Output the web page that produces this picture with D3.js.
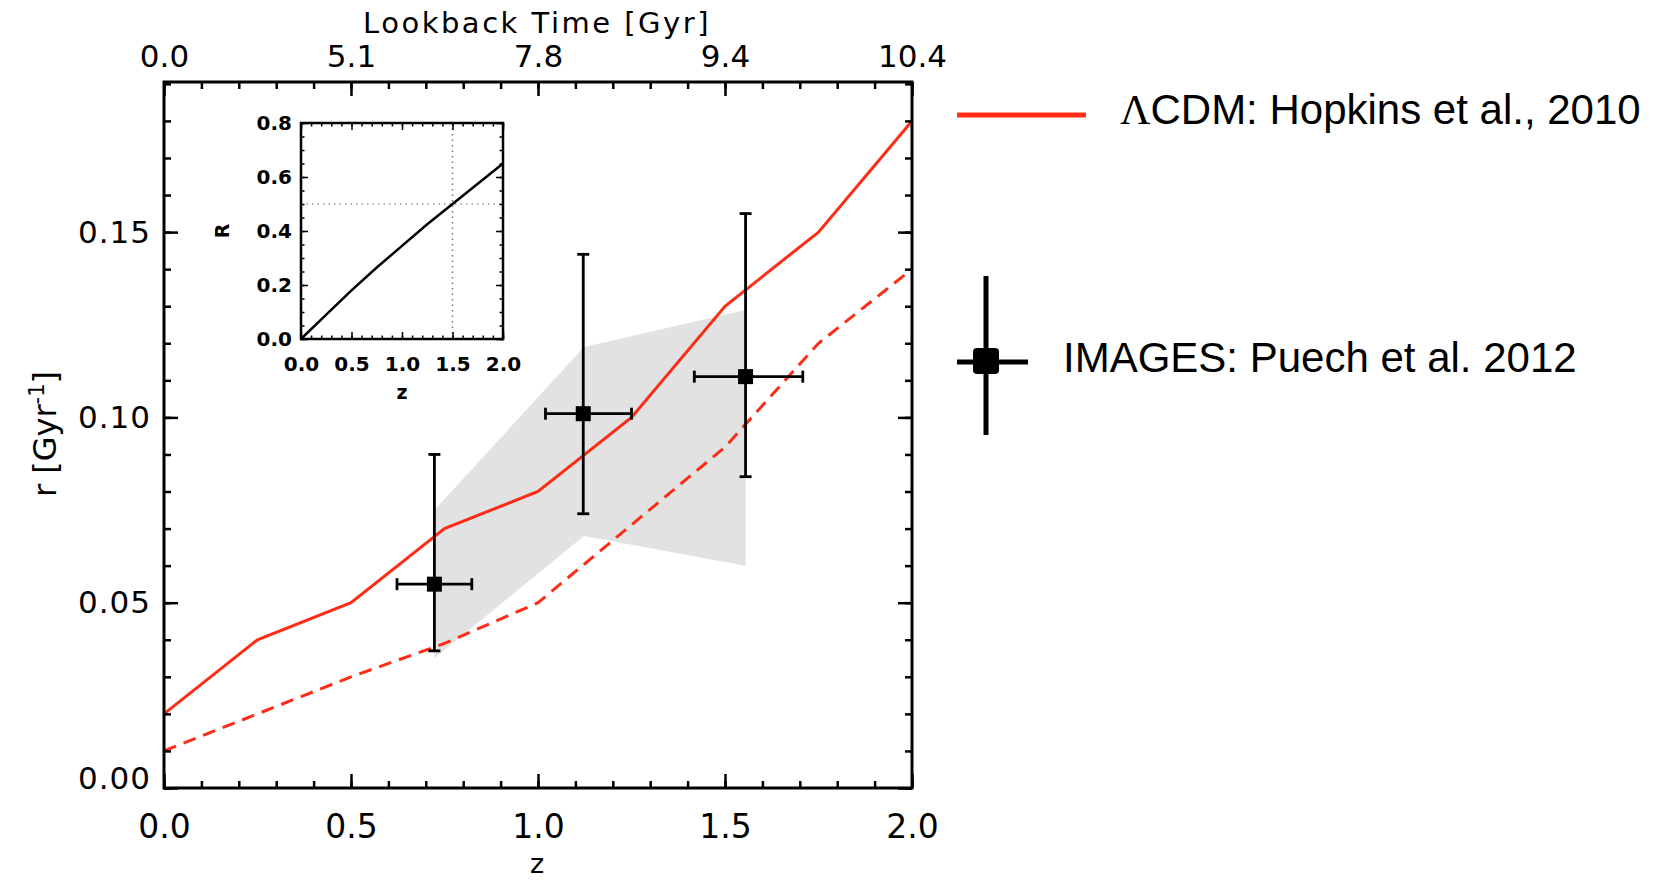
<!DOCTYPE html>
<html>
<head>
<meta charset="utf-8">
<script src="https://cdn.jsdelivr.net/npm/d3@7"></script>
<style>
  body { margin: 0; background: #fff; }
  text { font-family: "DejaVu Sans", sans-serif; fill: #000; }
</style>
</head>
<body>
<svg id="chart"></svg>
<script>
// model curves (Hopkins et al. 2010)
const modelZ = [0, 0.25, 0.5, 0.75, 1.0, 1.25, 1.5, 1.75, 2.0];
const hopkinsRate = [0.020, 0.040, 0.050, 0.070, 0.080, 0.100, 0.130, 0.150, 0.180];
const hopkinsLower = [0.010, 0.020, 0.030, 0.039, 0.050, 0.071, 0.092, 0.120, 0.140];

// IMAGES points (Puech et al. 2012)
const imagesZ = [0.723, 1.121, 1.555];
const imagesRate = [0.055, 0.101, 0.111];
const imagesZLow = [0.623, 1.020, 1.418];
const imagesZHigh = [0.823, 1.250, 1.708];
const imagesRateLow = [0.037, 0.074, 0.084];
const imagesRateHigh = [0.090, 0.144, 0.155];

// grey band
const bandZ = [0.723, 1.123, 1.555];
const bandUpper = [0.075, 0.119, 0.129];
const bandLower = [0.035, 0.068, 0.060];

// inset R(z)
const insetZ = [0, 0.25, 0.5, 0.75, 1.0, 1.25, 1.5, 1.75, 2.0];
const insetR = [0, 0.09, 0.18, 0.265, 0.345, 0.425, 0.50, 0.575, 0.65];

// ticks
const zTicks = [0, 0.5, 1.0, 1.5, 2.0];
const lookbackLabels = ["0.0", "5.1", "7.8", "9.4", "10.4"];
const rateTicks = [0, 0.05, 0.10, 0.15];
const insetRTicks = [0, 0.2, 0.4, 0.6, 0.8];

const width = 1662, height = 880;
const red = "#fe2c16";

const svg = d3.select("#chart")
    .attr("width", width)
    .attr("height", height)
    .style("display", "block");

svg.append("rect").attr("width", width).attr("height", height).attr("fill", "#fff");

// main scales
const x = d3.scaleLinear().domain([0, 2]).range([164, 912]);
const y = d3.scaleLinear().domain([0, 0.1905]).range([788, 82]);

// grey band
svg.append("path")
    .datum(bandZ.map((z, i) => ({ z, lo: bandLower[i], hi: bandUpper[i] })))
    .attr("fill", "#e2e2e2")
    .attr("d", d3.area().x(d => x(d.z)).y0(d => y(d.lo)).y1(d => y(d.hi)));

// red model lines
const line = d3.line().x(d => x(d[0])).y(d => y(d[1]));
svg.append("path")
    .datum(modelZ.map((z, i) => [z, hopkinsRate[i]]))
    .attr("fill", "none").attr("stroke", red).attr("stroke-width", 3)
    .attr("d", line);
svg.append("path")
    .datum(modelZ.map((z, i) => [z, hopkinsLower[i]]))
    .attr("fill", "none").attr("stroke", red).attr("stroke-width", 3)
    .attr("stroke-dasharray", "13,8")
    .attr("d", line);

// error bars
const pts = imagesZ.map((z, i) => ({
    z, r: imagesRate[i],
    z0: imagesZLow[i], z1: imagesZHigh[i],
    r0: imagesRateLow[i], r1: imagesRateHigh[i]
}));
const eb = svg.append("g").attr("stroke", "#000").attr("stroke-width", 2.8);
pts.forEach(p => {
    eb.append("line").attr("x1", x(p.z)).attr("x2", x(p.z)).attr("y1", y(p.r0)).attr("y2", y(p.r1));
    eb.append("line").attr("x1", x(p.z) - 6).attr("x2", x(p.z) + 6).attr("y1", y(p.r0)).attr("y2", y(p.r0));
    eb.append("line").attr("x1", x(p.z) - 6).attr("x2", x(p.z) + 6).attr("y1", y(p.r1)).attr("y2", y(p.r1));
    eb.append("line").attr("x1", x(p.z0)).attr("x2", x(p.z1)).attr("y1", y(p.r)).attr("y2", y(p.r));
    eb.append("line").attr("x1", x(p.z0)).attr("x2", x(p.z0)).attr("y1", y(p.r) - 6).attr("y2", y(p.r) + 6);
    eb.append("line").attr("x1", x(p.z1)).attr("x2", x(p.z1)).attr("y1", y(p.r) - 6).attr("y2", y(p.r) + 6);
});
svg.selectAll("rect.pt")
    .data(pts)
    .enter().append("rect")
    .attr("class", "pt")
    .attr("x", d => x(d.z) - 7.5).attr("y", d => y(d.r) - 7.5)
    .attr("width", 15).attr("height", 15)
    .attr("fill", "#000");

// axes
function styleAxis(g, size) {
    g.select(".domain").remove();
    g.selectAll(".tick line").attr("stroke", "#000").attr("stroke-width", 2.5);
    g.selectAll("text").style("font-size", size + "px");
}

const minorZ = d3.range(0, 2.001, 0.1);
const minorR = d3.range(0, 0.1901, 0.01);

svg.append("g").attr("transform", "translate(0,788)")
    .call(d3.axisBottom(x).tickValues(minorZ).tickSize(-7).tickFormat(""))
    .call(g => styleAxis(g, 1));
svg.append("g").attr("transform", "translate(0,788)")
    .call(d3.axisBottom(x).tickValues(zTicks).tickSize(-14).tickPadding(27).tickFormat(d3.format(".1f")))
    .call(g => styleAxis(g, 33));

svg.append("g").attr("transform", "translate(0,82)")
    .call(d3.axisTop(x).tickValues(minorZ).tickSize(-7).tickFormat(""))
    .call(g => styleAxis(g, 1));
svg.append("g").attr("transform", "translate(0,82)")
    .call(d3.axisTop(x).tickValues(zTicks).tickSize(-14).tickPadding(15).tickFormat((d, i) => lookbackLabels[i]))
    .call(g => styleAxis(g, 31));

svg.append("g").attr("transform", "translate(164,0)")
    .call(d3.axisLeft(y).tickValues(minorR).tickSize(-7).tickFormat(""))
    .call(g => styleAxis(g, 1));
svg.append("g").attr("transform", "translate(164,0)")
    .call(d3.axisLeft(y).tickValues(rateTicks).tickSize(-14).tickPadding(13).tickFormat(d3.format(".2f")))
    .call(g => styleAxis(g, 31))
    .call(g => g.selectAll("text").style("letter-spacing", "1px")
        .attr("y", d => d === 0 ? -9 : 0));

svg.append("g").attr("transform", "translate(912,0)")
    .call(d3.axisRight(y).tickValues(minorR).tickSize(-7).tickFormat(""))
    .call(g => styleAxis(g, 1));
svg.append("g").attr("transform", "translate(912,0)")
    .call(d3.axisRight(y).tickValues(rateTicks).tickSize(-14).tickFormat(""))
    .call(g => styleAxis(g, 1));

svg.append("rect")
    .attr("x", 164).attr("y", 82).attr("width", 748).attr("height", 706)
    .attr("fill", "none").attr("stroke", "#000").attr("stroke-width", 3);

// axis titles
svg.append("text").attr("x", 537).attr("y", 33).attr("text-anchor", "middle")
    .style("font-size", "29px").style("letter-spacing", "2.5px")
    .text("Lookback Time [Gyr]");
svg.append("text").attr("x", 537).attr("y", 873).attr("text-anchor", "middle")
    .style("font-size", "27px").text("z");
const yl = svg.append("text")
    .attr("transform", "translate(56,434) rotate(-90)")
    .attr("text-anchor", "middle")
    .style("font-size", "32px");
yl.append("tspan").text("r [Gyr");
yl.append("tspan").attr("dy", -12).style("font-size", "21px").text("-1");
yl.append("tspan").attr("dy", 12).text("]");

// inset
const ix = d3.scaleLinear().domain([0, 2]).range([301, 503]);
const iy = d3.scaleLinear().domain([0, 0.8]).range([339, 123]);
const inset = svg.append("g");

inset.append("rect")
    .attr("x", 301).attr("y", 123).attr("width", 202).attr("height", 216)
    .attr("fill", "#fff");

inset.append("line")
    .attr("x1", ix(1.5)).attr("x2", ix(1.5)).attr("y1", iy(0)).attr("y2", iy(0.8))
    .attr("stroke", "#777").attr("stroke-width", 1.5).attr("stroke-dasharray", "1.5,4");
inset.append("line")
    .attr("x1", ix(0)).attr("x2", ix(2)).attr("y1", iy(0.5)).attr("y2", iy(0.5))
    .attr("stroke", "#999").attr("stroke-width", 1.5).attr("stroke-dasharray", "1.5,4");

inset.append("path")
    .datum(insetZ.map((z, i) => [z, insetR[i]]))
    .attr("fill", "none").attr("stroke", "#000").attr("stroke-width", 2.5)
    .attr("d", d3.line().x(d => ix(d[0])).y(d => iy(d[1])));

function styleInset(g) {
    g.select(".domain").remove();
    g.selectAll(".tick line").attr("stroke", "#000").attr("stroke-width", 1.5);
    g.selectAll("text").style("font-size", "20px").style("font-weight", "bold");
}
const iMinorZ = d3.range(0, 2.001, 0.1);
const iMinorR = d3.range(0, 0.801, 0.05);

inset.append("g").attr("transform", "translate(0,339)")
    .call(d3.axisBottom(ix).tickValues(iMinorZ).tickSize(-3.5).tickFormat("")).call(styleInset);
inset.append("g").attr("transform", "translate(0,339)")
    .call(d3.axisBottom(ix).tickValues(zTicks).tickSize(-7).tickPadding(18).tickFormat(d3.format(".1f"))).call(styleInset);
inset.append("g").attr("transform", "translate(0,123)")
    .call(d3.axisTop(ix).tickValues(iMinorZ).tickSize(-3.5).tickFormat("")).call(styleInset);
inset.append("g").attr("transform", "translate(0,123)")
    .call(d3.axisTop(ix).tickValues(zTicks).tickSize(-7).tickFormat("")).call(styleInset);
inset.append("g").attr("transform", "translate(301,0)")
    .call(d3.axisLeft(iy).tickValues(iMinorR).tickSize(-3.5).tickFormat("")).call(styleInset);
inset.append("g").attr("transform", "translate(301,0)")
    .call(d3.axisLeft(iy).tickValues(insetRTicks).tickSize(-7).tickPadding(9).tickFormat(d3.format(".1f"))).call(styleInset);
inset.append("g").attr("transform", "translate(503,0)")
    .call(d3.axisRight(iy).tickValues(iMinorR).tickSize(-3.5).tickFormat("")).call(styleInset);
inset.append("g").attr("transform", "translate(503,0)")
    .call(d3.axisRight(iy).tickValues(insetRTicks).tickSize(-7).tickFormat("")).call(styleInset);

inset.append("rect")
    .attr("x", 301).attr("y", 123).attr("width", 202).attr("height", 216)
    .attr("fill", "none").attr("stroke", "#000").attr("stroke-width", 2.5);

inset.append("text").attr("x", 402).attr("y", 399).attr("text-anchor", "middle")
    .style("font-size", "19px").style("font-weight", "bold").text("z");
inset.append("text").attr("transform", "translate(229,231) rotate(-90)").attr("text-anchor", "middle")
    .style("font-size", "19px").style("font-weight", "bold").text("R");

// legend
const legend = svg.append("g");
legend.append("line")
    .attr("x1", 957).attr("x2", 1086).attr("y1", 115).attr("y2", 115)
    .attr("stroke", red).attr("stroke-width", 5);
const lt = legend.append("text").attr("x", 1120).attr("y", 124)
    .style("font-family", "'Liberation Sans', Arial, sans-serif").style("font-size", "42px");
lt.append("tspan").style("font-family", "'Liberation Serif', serif").text("Λ");
lt.append("tspan").text("CDM: Hopkins et al., 2010");

legend.append("line")
    .attr("x1", 986).attr("x2", 986).attr("y1", 276).attr("y2", 435)
    .attr("stroke", "#000").attr("stroke-width", 5);
legend.append("line")
    .attr("x1", 957).attr("x2", 1028).attr("y1", 362).attr("y2", 362)
    .attr("stroke", "#000").attr("stroke-width", 5);
legend.append("rect")
    .attr("x", 973).attr("y", 348).attr("width", 26).attr("height", 26).attr("rx", 4)
    .attr("fill", "#000");
legend.append("text").attr("x", 1063).attr("y", 372)
    .style("font-family", "'Liberation Sans', Arial, sans-serif").style("font-size", "42px")
    .text("IMAGES: Puech et al. 2012");
</script>
</body>
</html>
